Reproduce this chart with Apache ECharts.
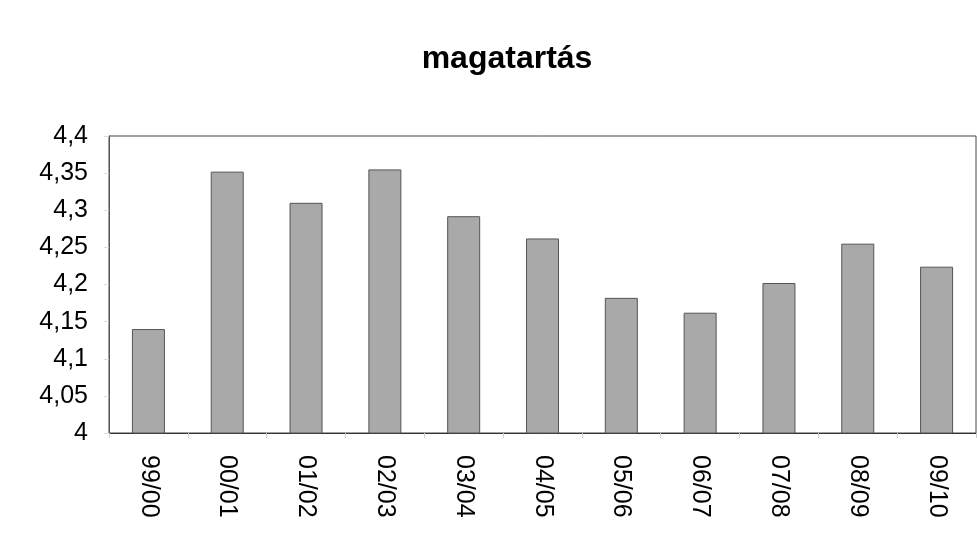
<!DOCTYPE html>
<html>
<head>
<meta charset="utf-8">
<script src="https://cdn.jsdelivr.net/npm/echarts@6/dist/echarts.min.js"></script>
<style>
  html, body { margin: 0; padding: 0; background: #fff; }
  #chart { width: 977px; height: 535px; }
</style>
</head>
<body>
<div id="chart"></div>
<script>
// tanévek
const years = ['99/00', '00/01', '01/02', '02/03', '03/04', '04/05', '05/06', '06/07', '07/08', '08/09', '09/10'];
// magatartás átlag
const values = [4.14, 4.352, 4.31, 4.355, 4.292, 4.262, 4.182, 4.162, 4.202, 4.255, 4.224];

const chart = echarts.init(document.getElementById('chart'));

const option = {
  animation: false,
  backgroundColor: '#fff',
  title: {
    text: 'magatartás',
    left: 502,
    top: 38,
    textAlign: 'center',
    textStyle: {
      fontFamily: 'Liberation Sans, Arial, sans-serif',
      fontSize: 32,
      fontWeight: 'bold',
      color: '#000',
    },
  },
  grid: {
    left: 109,
    right: 1,
    top: 136,
    bottom: 102,
    show: true,
    borderColor: '#444',
    borderWidth: 1,
  },
  xAxis: {
    type: 'category',
    data: years,
    axisLine: { show: true, lineStyle: { color: '#333', width: 1 } },
    axisTick: { show: true, length: 5, lineStyle: { color: '#ccc' } },
    axisLabel: {
      rotate: -90,
      interval: 0,
      margin: 22,
      fontFamily: 'Liberation Sans, Arial, sans-serif',
      fontSize: 25,
      color: '#000',
    },
  },
  yAxis: {
    type: 'value',
    min: 4,
    max: 4.4,
    interval: 0.05,
    splitLine: { show: false },
    axisLine: { show: true, lineStyle: { color: '#555' } },
    axisTick: { show: true, length: 5, lineStyle: { color: '#ddd' } },
    axisLabel: {
      margin: 21,
      fontFamily: 'Liberation Sans, Arial, sans-serif',
      fontSize: 25,
      color: '#000',
      formatter: v => String(Math.round(v * 100) / 100).replace('.', ','),
    },
  },
  series: [
    {
      type: 'bar',
      data: values,
      barWidth: 33,
      itemStyle: {
        color: '#a9a9a9',
        borderColor: '#555',
        borderWidth: 1,
      },
    },
  ],
};

chart.setOption(option);
</script>
</body>
</html>
